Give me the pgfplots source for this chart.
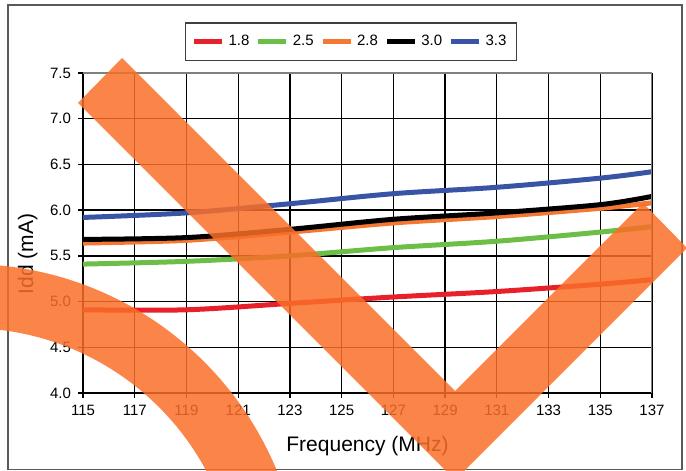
\documentclass[border=0pt]{standalone}
\usepackage{pgfplots}
\pgfplotsset{compat=1.18}
\usepackage{fontspec}
\setmainfont{Liberation Sans}
\definecolor{cred}{RGB}{232,32,42}
\definecolor{cgreen}{RGB}{108,190,70}
\definecolor{corange}{RGB}{245,120,50}
\definecolor{cblue}{RGB}{58,84,165}
\definecolor{ovl}{RGB}{250,110,40}

\begin{document}
\begin{tikzpicture}
\useasboundingbox (0,0) rectangle (343pt,235.5pt);
\begin{scope}
\clip (0,0) rectangle (343pt,235.5pt);
\draw[black!65, line width=0.7pt] (4pt,0.6pt) rectangle (341pt,233pt);
\begin{axis}[
  at={(41.5pt,39pt)}, anchor=south west,
  scale only axis, width=284.5pt, height=160pt,
  xmin=115, xmax=137, ymin=4, ymax=7.5,
  xtick={115,117,...,137},
  ytick={4,4.5,5,5.5,6,6.5,7,7.5},
  /pgf/number format/assume math mode=true,
  yticklabel style={/pgf/number format/.cd, fixed, fixed zerofill, precision=1},
  xticklabel style={/pgf/number format/.cd, fixed, precision=0, 1000 sep={}},
  tick label style={font=\fontsize{7.5}{9}\selectfont, black},
  grid=major, grid style={black, line width=0.65pt},
  axis line style={draw=none},
  tick style={black, line width=0.65pt},
  tick align=outside, major tick length=2.5pt,
  xtick pos=left, ytick pos=left,
  xlabel={Frequency (MHz)},
  ylabel={Idd (mA)},
  label style={font=\fontsize{10.5}{12}\selectfont},
  xlabel style={at={(axis description cs:0.5,-0.1656)}, anchor=center},
  ylabel style={at={(axis description cs:-0.097,0.434)}, anchor=center},
  legend style={at={(axis description cs:0.471,1.098)}, anchor=center,
    legend columns=5, draw=black!75, line width=0.7pt,
    font=\fontsize{7.5}{8.5}\selectfont, inner xsep=3pt, inner ysep=4pt,
    /tikz/every even column/.append style={column sep=1.2pt}},
  legend image code/.code={\draw[#1, line width=2.5pt] (0pt,0pt) -- (14pt,0pt);},
]
\addplot[cred, line width=2.5pt, smooth] coordinates {
(115,4.91) (119,4.91) (123,4.98) (127,5.05) (131,5.11) (135,5.19) (137,5.24)};
\addlegendentry{1.8}
\addplot[cgreen, line width=2.5pt, smooth] coordinates {
(115,5.41) (119,5.44) (123,5.50) (127,5.59) (131,5.66) (135,5.76) (137,5.82)};
\addlegendentry{2.5}
\addplot[corange, line width=2.5pt, smooth] coordinates {
(115,5.64) (119,5.67) (123,5.76) (127,5.86) (131,5.93) (135,6.02) (137,6.08)};
\addlegendentry{2.8}
\addplot[black, line width=2.5pt, smooth] coordinates {
(115,5.68) (119,5.70) (123,5.79) (127,5.90) (131,5.97) (135,6.06) (137,6.15)};
\addlegendentry{3.0}
\addplot[cblue, line width=2.5pt, smooth] coordinates {
(115,5.92) (119,5.97) (123,6.07) (127,6.18) (131,6.25) (135,6.35) (137,6.42)};
\addlegendentry{3.3}
\draw[gray, line width=0.8pt] (rel axis cs:0,1) -- (rel axis cs:1,1) -- (rel axis cs:1,0);
\end{axis}
\fill[ovl, fill opacity=0.85] (61pt,206.5pt) -- (227.5pt,40pt) -- (321.5pt,134pt) -- (343.5pt,111.5pt) -- (227.5pt,-4.5pt) -- (39pt,184pt) -- cycle;
\fill[ovl, fill opacity=0.85, even odd rule] (-16pt,-63.5pt) circle (167pt) (-16pt,-63.5pt) circle (135pt);
\end{scope}
\end{tikzpicture}
\end{document}
